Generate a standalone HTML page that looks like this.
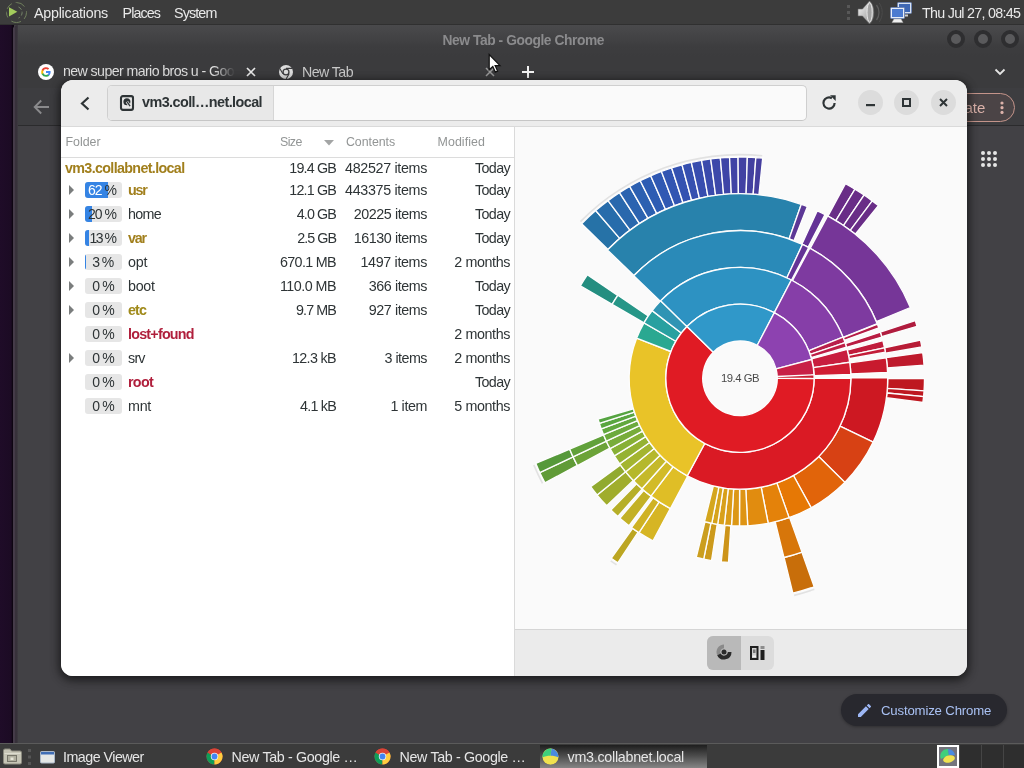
<!DOCTYPE html>
<html><head><meta charset="utf-8"><title>vm3.collabnet.local</title>
<style>
html,body{margin:0;padding:0}
body{width:1024px;height:768px;overflow:hidden;position:relative;background:#424145;
 font-family:"Liberation Sans",sans-serif;font-size:14px;color:#2e3436}
div,span,svg{position:absolute;box-sizing:border-box}
.t{white-space:nowrap;line-height:1}
#top,#bot,#chrome,#bao{will-change:transform}

/* ---------- desktop + panels ---------- */
#desk{left:0;top:25px;width:14px;height:718px;background:linear-gradient(90deg,#1f0c28 0,#1c0b24 11px,#0e0512 12.500px,#0e0512 13px)}
#top{left:0;top:0;width:1024px;height:25px;background:#3c3c3c;border-bottom:1px solid #303030}
#top .t{color:#e9e9e9;font-size:14.3px;top:5.500px}
#bot{left:0;top:743px;width:1024px;height:25px;background:#3b3b3b;border-top:1px solid #5b5b5b}
#bot .t{color:#e6e6e6;font-size:14.3px;top:5.500px}

/* ---------- chrome ---------- */
#chrome{left:13px;top:25px;width:1011px;height:718px;background:#424145;border-top-left-radius:5px;overflow:hidden}
#cedge{left:0;top:0;width:5px;height:718px;background:linear-gradient(90deg,#463c4a 0,#443a48 1.500px,#37313a 2px,#37313a 4px,#403e43 5px)}
#ctitle{left:0;top:0;width:1011px;height:31px;background:linear-gradient(#4a4a4c,#3d3d3f 70%,#3b3b3d)}
#ctabs{left:0;top:31px;width:1011px;height:32px;background:#3b3b3d}
#ctool{left:0;top:63px;width:1011px;height:38px;background:#3d3d40;border-bottom:1px solid #2b2b2d}
#ctitle .t{color:#8b8b8d;font-weight:bold;font-size:13.8px;top:9px}
.tab{color:#dedede;font-size:14.2px;top:40px}
.wb{width:18px;height:18px;border-radius:50%;top:5px;background:#5a5a5c;border:4px solid #2e2e30}

/* ---------- baobab ---------- */
#bao{left:61px;top:80px;width:906px;height:596px;border-radius:12px;overflow:hidden;background:#fafafa;
 box-shadow:0 2px 8px 1px rgba(0,0,0,.35)}
#bshadow{left:61px;top:80px;width:906px;height:596px;border-radius:12px;box-shadow:0 3px 10px 2px rgba(0,0,0,.35)}
#bhead{left:0;top:0;width:906px;height:47px;background:#ececec;border-bottom:1px solid #dadada}
#path{left:46px;top:5px;width:700px;height:36px;background:#fafafa;border:1px solid #cfcfcf;border-bottom-color:#c6c6c6;border-radius:5px;overflow:hidden}
#pbtn{left:0;top:0;width:166px;height:34px;background:#e8e8e8;border-right:1px solid #d6d6d6}
#pbtn .t{font-weight:bold;font-size:14.4px;color:#2e3436;left:34px;top:9px}
.cb{width:25px;height:25px;border-radius:50%;background:#dcdcdc;top:10px}
#left{left:0;top:47px;width:453px;height:549px;background:#fff}
#vsep{left:453px;top:47px;width:1px;height:549px;background:#dadada}
#right{left:454px;top:47px;width:452px;height:502px;background:#fafafa}
#abar{left:454px;top:549px;width:452px;height:47px;background:#ebebeb;border-top:1px solid #d5d5d5}
.hdr{color:#929595;font-size:12.4px;top:9px}
#hline{left:0;top:30px;width:453px;height:1px;background:#dcdcdc}
.row{left:0;width:453px;height:24px}
.row{color:#2e3436}
.row .t{font-size:14.3px;top:5px}
.row .nm{left:67px}
.row .r{text-align:right}
.sz{right:178px}.ct{right:87px}.md{right:4px}
.b{font-weight:bold}
.gold{color:#a17f1c}.red{color:#b01f3c}.olive{color:#a08a1a}
.pc{left:24px;top:4px;width:37px;height:16px;background:#e6e6e6;border-radius:3px;overflow:hidden}
.pc .t{font-size:14px;top:1px;color:#2e3436}
.pc b{font-weight:normal;color:#fff}
.pc i{position:absolute;left:0;top:0;height:16px;background:#3584e4;display:block}
.tri{left:8px;top:7px;width:0;height:0;border-left:5px solid #7a7d7d;border-top:5px solid transparent;border-bottom:5px solid transparent}
.chart{left:0;top:0}
.chart path{stroke:#fdfdfd;stroke-width:1.350;stroke-linejoin:miter}
.chart path.tk{stroke:none}
#clabel{font-size:11.3px;color:#4a4a4a;left:206px;top:246px}

</style></head>
<body>
<div id="desk"></div>

<!-- ================= CHROME WINDOW ================= -->
<div id="chrome">
  <div id="ctitle"><span class="t" style="letter-spacing:-0.433px;left:429.5px">New Tab - Google Chrome</span>
    <div class="wb" style="left:934px"></div><div class="wb" style="left:961px"></div><div class="wb" style="left:988px"></div>
  </div>
  <div id="ctabs"></div>
  <div id="ctool"></div>
  <div id="cedge"></div>
  <!-- tab 1 -->
  <svg style="left:25px;top:39px" width="16" height="16" viewBox="0 0 16 16">
    <circle cx="8" cy="8" r="8" fill="#fff"/>
    <path d="M12.6 8.1c0-.35-.03-.68-.09-1H8v1.9h2.58a2.2 2.2 0 0 1-.96 1.45v1.2h1.55c.9-.83 1.43-2.06 1.43-3.55z" fill="#4285f4"/>
    <path d="M8 12.8c1.3 0 2.38-.43 3.17-1.16l-1.55-1.2c-.43.29-.98.46-1.62.46-1.25 0-2.3-.84-2.68-1.97H3.72v1.24A4.8 4.8 0 0 0 8 12.8z" fill="#34a853"/>
    <path d="M5.32 8.93a2.9 2.9 0 0 1 0-1.84V5.85H3.72a4.8 4.8 0 0 0 0 4.32l1.6-1.24z" fill="#fbbc05"/>
    <path d="M8 5.1c.7 0 1.34.24 1.83.72l1.38-1.38A4.8 4.8 0 0 0 3.72 5.85l1.6 1.24C5.7 5.94 6.75 5.1 8 5.1z" fill="#ea4335"/>
  </svg>
  <div style="left:50px;top:36px;width:172px;height:22px;overflow:hidden;-webkit-mask-image:linear-gradient(90deg,#000 88%,transparent);mask-image:linear-gradient(90deg,#000 88%,transparent)"><span class="t tab" style="letter-spacing:-0.596px;left:0;top:3px">new super mario bros u - Goo</span><span class="t tab" style="left:171px;top:3px">gle Search</span></div>
  <svg style="left:233px;top:42px" width="10" height="10" viewBox="0 0 10 10"><path d="M1 1l8 8M9 1l-8 8" stroke="#e8e8e8" stroke-width="1.7"/></svg>
  <!-- tab 2 -->
  <svg style="left:265px;top:39px" width="16" height="16" viewBox="0 0 16 16">
    <circle cx="8" cy="8" r="7" fill="#dcdcdc"/>
    <circle cx="8" cy="8" r="3.6" fill="#3b3b3d"/><circle cx="8" cy="8" r="2.3" fill="#dcdcdc"/>
    <path d="M8 4.4h6.2M4.9 9.8l-3.1-5.4M11.1 9.8l-3.1 5.4" stroke="#3b3b3d" stroke-width="1.1" fill="none"/>
  </svg>
  <span class="t tab" style="letter-spacing:-0.565px;left:289px;color:#c9c9c9">New Tab</span>
  <svg style="left:472px;top:42px" width="10" height="10" viewBox="0 0 10 10"><path d="M1 1l8 8M9 1l-8 8" stroke="#9a9a9a" stroke-width="1.5"/></svg>
  <svg style="left:509px;top:41px" width="12" height="12" viewBox="0 0 12 12"><path d="M6 0v12M0 6h12" stroke="#f2f2f2" stroke-width="2"/></svg>
  <svg style="left:981px;top:43px" width="12" height="8" viewBox="0 0 12 8"><path d="M1.5 1.5l4.5 4.5 4.5-4.5" stroke="#e4e4e4" stroke-width="1.8" fill="none"/></svg>
  <!-- toolbar -->
  <svg style="left:20px;top:74px" width="17" height="16" viewBox="0 0 17 16"><path d="M16 8H2M8.2 1.5L1.7 8l6.5 6.5" stroke="#8a8a8c" stroke-width="1.9" fill="none"/></svg>
  <div style="left:900px;top:68px;width:102px;height:29px;border:1.300px solid #c4948a;border-radius:15px;background:rgba(210,140,130,.10)"></div>
  <span class="t" style="left:924px;top:74.500px;font-size:15px;color:#dcb2aa">Update</span>
  <svg style="left:985.500px;top:75px" width="6" height="16" viewBox="0 0 6 16"><circle cx="3" cy="3" r="1.600" fill="#dcb2aa"/><circle cx="3" cy="7.700" r="1.600" fill="#dcb2aa"/><circle cx="3" cy="12.400" r="1.600" fill="#dcb2aa"/></svg>
  <!-- apps grid -->
  <svg style="left:967px;top:125px" width="18" height="18" viewBox="0 0 18 18" fill="#e6e6e6">
    <circle cx="3" cy="3" r="2"/><circle cx="9" cy="3" r="2"/><circle cx="15" cy="3" r="2"/>
    <circle cx="3" cy="9" r="2"/><circle cx="9" cy="9" r="2"/><circle cx="15" cy="9" r="2"/>
    <circle cx="3" cy="15" r="2"/><circle cx="9" cy="15" r="2"/><circle cx="15" cy="15" r="2"/>
  </svg>
  <!-- customize chrome -->
  <div style="left:828px;top:669px;width:166px;height:32px;border-radius:16px;background:#28282e;box-shadow:0 1px 3px rgba(0,0,0,.3)"></div>
  <svg style="left:845px;top:679px" width="13" height="13" viewBox="0 0 13 13"><path d="M0 13v-2.8L7.9 2.3l2.8 2.8L2.8 13zM8.8 1.4L10 .2a.8.8 0 0 1 1.1 0l1.7 1.7a.8.8 0 0 1 0 1.1l-1.2 1.2z" fill="#9db7f5"/></svg>
  <span class="t" style="letter-spacing:-0.167px;left:868px;top:679px;font-size:13.2px;color:#a9c1f3">Customize Chrome</span>
</div>

<!-- mouse cursor -->
<svg style="left:487px;top:53px;z-index:50" width="16" height="22" viewBox="0 0 16 22"><path d="M2.2 1.5v15.2l3.6-3.3 2.5 5.7 2.3-1-2.5-5.5h4.9z" fill="#fff" stroke="#111" stroke-width="1.2"/></svg>

<!-- ================= TOP PANEL ================= -->
<div id="top">
  <svg style="left:3px;top:0" width="25" height="25" viewBox="0 0 25 25">
    <circle cx="13.500" cy="12.500" r="10" fill="none" stroke="#6f7f5c" stroke-width="1" stroke-dasharray="7 4 10 5 6 3"/>
    <path d="M15.500 7a6 6 0 0 1 0 11" fill="none" stroke="#76866a" stroke-width="1" stroke-dasharray="4 2"/>
    <path d="M6 7.200l8.300 4.600-8.300 4.600z" fill="#a3cb5c"/>
  </svg>
  <span class="t" style="letter-spacing:-0.258px;left:34px">Applications</span>
  <span class="t" style="letter-spacing:-0.904px;left:122.5px">Places</span>
  <span class="t" style="letter-spacing:-0.862px;left:174px">System</span>
  <svg style="left:846px;top:4px" width="6" height="18" viewBox="0 0 6 18" fill="#585858"><rect x="1" y="1" width="3" height="3"/><rect x="1" y="7" width="3" height="3"/><rect x="1" y="13" width="3" height="3"/></svg>
  <!-- speaker -->
  <svg style="left:856px;top:0" width="27" height="25" viewBox="0 0 27 25">
    <defs><linearGradient id="sp" x1="0" y1="0" x2="1" y2="1"><stop offset="0" stop-color="#fafafa"/><stop offset="1" stop-color="#8a8a8a"/></linearGradient></defs>
    <path d="M2 9h4.500l7-8c3 2.500 4.300 6.800 4.300 11.500s-1.300 9-4.300 11.500l-7-8H2z" fill="url(#sp)" stroke="#6a6a6a" stroke-width=".6"/>
    <ellipse cx="13.600" cy="12.500" rx="2.600" ry="9.600" fill="#a2a2a2" stroke="#ececec" stroke-width=".9"/>
    <path d="M20.500 5c1.700 2.200 2.500 4.700 2.500 7.500s-.8 5.300-2.500 7.500" fill="none" stroke="#5c5c5c" stroke-width="1.300"/>
    <path d="M23.200 3c2 2.700 3 6 3 9.500s-1 6.800-3 9.500" fill="none" stroke="#4a4a4a" stroke-width="1"/>
  </svg>
  <!-- network -->
  <svg style="left:889px;top:1px" width="24" height="23" viewBox="0 0 24 23">
    <rect x="8.500" y="1.500" width="14" height="11" rx="1" fill="#d9e3f2" stroke="#6f86b5"/>
    <rect x="10" y="3" width="11" height="8" fill="#3f68b5"/>
    <rect x="13" y="13.500" width="6" height="2" fill="#cfcfcf"/>
    <rect x="1.500" y="6.500" width="14" height="11" rx="1" fill="#e8eef8" stroke="#6f86b5"/>
    <rect x="3" y="8" width="11" height="8" fill="#4c7bd0"/>
    <path d="M5 18h7l2 3.500H3z" fill="#f0f0f0" stroke="#aaa" stroke-width=".5"/>
  </svg>
  <span class="t" style="letter-spacing:-0.723px;left:922px">Thu Jul 27, 08:45</span>
</div>

<!-- ================= BAOBAB ================= -->
<div id="bshadow"></div>
<div id="bao">
  <div id="bhead">
    <svg style="left:18px;top:16px" width="12" height="15" viewBox="0 0 12 15"><path d="M9.500 1.500L3 7.500l6.500 6" stroke="#2e3436" stroke-width="2.200" fill="none"/></svg>
    <div id="path">
      <div id="pbtn">
        <svg style="left:11px;top:8px" width="16" height="18" viewBox="0 0 16 18">
          <rect x="2" y="2.100" width="12" height="13.800" rx="1.800" fill="none" stroke="#2e3436" stroke-width="2.100"/>
          <circle cx="7.900" cy="7.700" r="3.500" fill="#2e3436"/>
          <path d="M7.900 7.700l3.300 4.800" stroke="#e6e6e6" stroke-width="2.800"/>
          <path d="M8.100 7.900l3 4.300" stroke="#2e3436" stroke-width="1.300"/>
        </svg>
        <span class="t" style="letter-spacing:-0.576px">vm3.coll…net.local</span>
      </div>
    </div>
    <svg style="left:760px;top:15px" width="16" height="16" viewBox="0 0 16 16">
      <path d="M13.600 8A5.600 5.600 0 1 1 10.900 3.200" fill="none" stroke="#2e3436" stroke-width="2.200"/>
      <path d="M9 .3h5.700v5.700z" fill="#2e3436"/>
    </svg>
    <div class="cb" style="left:797px"><svg style="left:8px;top:14px" width="9" height="3"><rect width="9" height="2.200" fill="#2e3436"/></svg></div>
    <div class="cb" style="left:833px"><svg style="left:8px;top:8px" width="9" height="9"><rect x="1" y="1" width="7" height="7" fill="none" stroke="#2e3436" stroke-width="2"/></svg></div>
    <div class="cb" style="left:870px"><svg style="left:8px;top:8px" width="9" height="9" viewBox="0 0 9 9"><path d="M1 1l7 7M8 1l-7 7" stroke="#2e3436" stroke-width="2"/></svg></div>
  </div>

  <div id="left">
    <span class="t hdr" style="letter-spacing:-0.021px;left:4.5px">Folder</span>
    <span class="t hdr" style="letter-spacing:-0.590px;left:219px">Size</span>
    <svg style="left:263px;top:13px" width="10" height="6" viewBox="0 0 10 6"><path d="M0 0h10L5 5.500z" fill="#a3a5a5"/></svg>
    <span class="t hdr" style="letter-spacing:-0.074px;left:285px">Contents</span>
    <span class="t hdr" style="letter-spacing:0.082px;left:376.5px">Modified</span>
    <div id="hline"></div>

<div class="row" style="top:29px"><span class="t b gold" style="letter-spacing:-0.653px;left:4px">vm3.collabnet.local</span><span class="t sz" style="letter-spacing:-0.817px">19.4 GB</span><span class="t ct" style="letter-spacing:-0.320px">482527 items</span><span class="t md" style="letter-spacing:-0.631px">Today</span></div>
<div class="row" style="top:51px"><div class="tri"></div><div class="pc"><i style="width:23px"></i><span class="t" style="letter-spacing:-0.980px;left:3px"><b>62</b> %</span></div><span class="t nm b gold" style="letter-spacing:-1.167px">usr</span><span class="t sz" style="letter-spacing:-0.817px">12.1 GB</span><span class="t ct" style="letter-spacing:-0.320px">443375 items</span><span class="t md" style="letter-spacing:-0.631px">Today</span></div>
<div class="row" style="top:75px"><div class="tri"></div><div class="pc"><i style="width:7px"></i><span class="t" style="letter-spacing:-0.980px;left:3px">20 %</span></div><span class="t nm " style="letter-spacing:-0.691px">home</span><span class="t sz" style="letter-spacing:-0.878px">4.0 GB</span><span class="t ct" style="letter-spacing:-0.422px">20225 items</span><span class="t md" style="letter-spacing:-0.631px">Today</span></div>
<div class="row" style="top:99px"><div class="tri"></div><div class="pc"><i style="width:4px"></i><span class="t" style="letter-spacing:-1.480px;left:4.5px">13 %</span></div><span class="t nm b gold" style="letter-spacing:-1.156px">var</span><span class="t sz" style="letter-spacing:-0.961px">2.5 GB</span><span class="t ct" style="letter-spacing:-0.422px">16130 items</span><span class="t md" style="letter-spacing:-0.631px">Today</span></div>
<div class="row" style="top:123px"><div class="tri"></div><div class="pc"><i style="width:1px"></i><span class="t" style="letter-spacing:-1.042px;left:7.25px">3 %</span></div><span class="t nm " style="letter-spacing:-0.208px">opt</span><span class="t sz" style="letter-spacing:-0.650px">670.1 MB</span><span class="t ct" style="letter-spacing:-0.344px">1497 items</span><span class="t md" style="letter-spacing:-0.383px">2 months</span></div>
<div class="row" style="top:147px"><div class="tri"></div><div class="pc"><span class="t" style="letter-spacing:-0.792px;left:7.25px">0 %</span></div><span class="t nm " style="letter-spacing:-0.270px">boot</span><span class="t sz" style="letter-spacing:-0.518px">110.0 MB</span><span class="t ct" style="letter-spacing:-0.415px">366 items</span><span class="t md" style="letter-spacing:-0.631px">Today</span></div>
<div class="row" style="top:171px"><div class="tri"></div><div class="pc"><span class="t" style="letter-spacing:-0.792px;left:7.25px">0 %</span></div><span class="t nm b olive" style="letter-spacing:-0.891px">etc</span><span class="t sz" style="letter-spacing:-0.883px">9.7 MB</span><span class="t ct" style="letter-spacing:-0.415px">927 items</span><span class="t md" style="letter-spacing:-0.631px">Today</span></div>
<div class="row" style="top:195px"><div class="pc"><span class="t" style="letter-spacing:-0.792px;left:7.25px">0 %</span></div><span class="t nm b red" style="letter-spacing:-0.772px">lost+found</span><span class="t md" style="letter-spacing:-0.383px">2 months</span></div>
<div class="row" style="top:219px"><div class="tri"></div><div class="pc"><span class="t" style="letter-spacing:-0.792px;left:7.25px">0 %</span></div><span class="t nm " style="letter-spacing:-0.771px">srv</span><span class="t sz" style="letter-spacing:-0.641px">12.3 kB</span><span class="t ct" style="letter-spacing:-0.513px">3 items</span><span class="t md" style="letter-spacing:-0.383px">2 months</span></div>
<div class="row" style="top:243px"><div class="pc"><span class="t" style="letter-spacing:-0.792px;left:7.25px">0 %</span></div><span class="t nm b red" style="letter-spacing:-0.699px">root</span><span class="t md" style="letter-spacing:-0.631px">Today</span></div>
<div class="row" style="top:267px"><div class="pc"><span class="t" style="letter-spacing:-0.792px;left:7.25px">0 %</span></div><span class="t nm " style="letter-spacing:-0.281px">mnt</span><span class="t sz" style="letter-spacing:-0.755px">4.1 kB</span><span class="t ct" style="letter-spacing:-0.406px">1 item</span><span class="t md" style="letter-spacing:-0.383px">5 months</span></div>
  </div>
  <div id="vsep"></div>
  <div id="right">
<svg class="chart" width="452" height="502" viewBox="515 127 452 502">
<path class="tk" d="M581.09 222.14L579.88 220.95A224.50 224.50 0 0 1 762.30 154.91L762.13 156.60A222.80 222.80 0 0 0 581.09 222.14Z" fill="#dcdcdc" opacity="0.8"/>
<path class="tk" d="M814.01 588.45L814.57 590.05A224.50 224.50 0 0 1 794.31 596.13L793.90 594.48A222.80 222.80 0 0 0 814.01 588.45Z" fill="#dcdcdc" opacity="0.8"/>
<path class="tk" d="M543.28 482.90L541.78 483.70A224.50 224.50 0 0 1 533.04 465.30L534.61 464.64A222.80 222.80 0 0 0 543.28 482.90Z" fill="#dcdcdc" opacity="0.8"/>
<path class="tk" d="M617.03 564.09L616.09 565.51A224.50 224.50 0 0 1 610.27 561.52L611.25 560.14A222.80 222.80 0 0 0 617.03 564.09Z" fill="#dcdcdc" opacity="0.8"/>
<path d="M801.86 552.12L814.20 586.79A221.30 221.30 0 0 1 792.82 593.20L784.04 557.47A184.50 184.50 0 0 0 801.86 552.12Z" fill="#c86e0a"/>
<path d="M638.14 532.14L617.83 562.82A221.30 221.30 0 0 1 611.21 558.26L632.62 528.33A184.50 184.50 0 0 0 638.14 532.14Z" fill="#bca622"/>
<path d="M577.39 465.46L544.95 482.84A221.30 221.30 0 0 1 539.76 472.52L573.06 456.86A184.50 184.50 0 0 0 577.39 465.46Z" fill="#609b37"/>
<path d="M573.06 456.86L539.76 472.52A221.30 221.30 0 0 1 535.71 463.38L569.68 449.23A184.50 184.50 0 0 0 573.06 456.86Z" fill="#56993a"/>
<path d="M607.98 249.42L581.64 223.71A221.30 221.30 0 0 1 595.69 210.52L619.69 238.42A184.50 184.50 0 0 0 607.98 249.42Z" fill="#2672a7"/>
<path d="M619.69 238.42L595.69 210.52A221.30 221.30 0 0 1 608.06 200.64L630.00 230.18A184.50 184.50 0 0 0 619.69 238.42Z" fill="#276cab"/>
<path d="M630.00 230.18L608.06 200.64A221.30 221.30 0 0 1 619.47 192.70L639.51 223.57A184.50 184.50 0 0 0 630.00 230.18Z" fill="#2968ad"/>
<path d="M639.51 223.57L619.47 192.70A221.30 221.30 0 0 1 629.68 186.46L648.03 218.36A184.50 184.50 0 0 0 639.51 223.57Z" fill="#2b63b0"/>
<path d="M648.03 218.36L629.68 186.46A221.30 221.30 0 0 1 640.22 180.77L656.81 213.62A184.50 184.50 0 0 0 648.03 218.36Z" fill="#2c60b1"/>
<path d="M656.81 213.62L640.22 180.77A221.30 221.30 0 0 1 650.70 175.82L665.55 209.49A184.50 184.50 0 0 0 656.81 213.62Z" fill="#2d5cb3"/>
<path d="M665.55 209.49L650.70 175.82A221.30 221.30 0 0 1 661.41 171.42L674.48 205.82A184.50 184.50 0 0 0 665.55 209.49Z" fill="#3059b3"/>
<path d="M674.48 205.82L661.41 171.42A221.30 221.30 0 0 1 671.61 167.83L682.99 202.83A184.50 184.50 0 0 0 674.48 205.82Z" fill="#3255b2"/>
<path d="M682.99 202.83L671.61 167.83A221.30 221.30 0 0 1 681.98 164.74L691.63 200.25A184.50 184.50 0 0 0 682.99 202.83Z" fill="#3452b1"/>
<path d="M691.63 200.25L681.98 164.74A221.30 221.30 0 0 1 691.35 162.41L699.44 198.31A184.50 184.50 0 0 0 691.63 200.25Z" fill="#3650b0"/>
<path d="M699.44 198.31L691.35 162.41A221.30 221.30 0 0 1 701.57 160.36L707.96 196.60A184.50 184.50 0 0 0 699.44 198.31Z" fill="#384daf"/>
<path d="M707.96 196.60L701.57 160.36A221.30 221.30 0 0 1 710.73 158.94L715.60 195.42A184.50 184.50 0 0 0 707.96 196.60Z" fill="#3a4aac"/>
<path d="M715.60 195.42L710.73 158.94A221.30 221.30 0 0 1 720.33 157.88L723.60 194.53A184.50 184.50 0 0 0 715.60 195.42Z" fill="#3c48aa"/>
<path d="M723.60 194.53L720.33 157.88A221.30 221.30 0 0 1 729.58 157.25L731.31 194.00A184.50 184.50 0 0 0 723.60 194.53Z" fill="#3e45a7"/>
<path d="M731.31 194.00L729.58 157.25A221.30 221.30 0 0 1 738.07 157.01L738.39 193.81A184.50 184.50 0 0 0 731.31 194.00Z" fill="#4043a5"/>
<path d="M738.39 193.81L738.07 157.01A221.30 221.30 0 0 1 747.34 157.12L746.12 193.90A184.50 184.50 0 0 0 738.39 193.81Z" fill="#4241a3"/>
<path d="M746.12 193.90L747.34 157.12A221.30 221.30 0 0 1 755.82 157.57L753.19 194.27A184.50 184.50 0 0 0 746.12 193.90Z" fill="#4340a0"/>
<path d="M753.19 194.27L755.82 157.57A221.30 221.30 0 0 1 762.71 158.17L758.94 194.77A184.50 184.50 0 0 0 753.19 194.27Z" fill="#453e9e"/>
<path d="M827.92 216.10L845.46 183.74A221.30 221.30 0 0 1 854.97 189.21L835.85 220.65A184.50 184.50 0 0 0 827.92 216.10Z" fill="#692d87"/>
<path d="M835.85 220.65L854.97 189.21A221.30 221.30 0 0 1 864.07 195.05L843.44 225.52A184.50 184.50 0 0 0 835.85 220.65Z" fill="#692d87"/>
<path d="M843.44 225.52L864.07 195.05A221.30 221.30 0 0 1 872.25 200.87L850.26 230.37A184.50 184.50 0 0 0 843.44 225.52Z" fill="#692d87"/>
<path d="M850.26 230.37L872.25 200.87A221.30 221.30 0 0 1 878.34 205.57L855.33 234.29A184.50 184.50 0 0 0 850.26 230.37Z" fill="#692d87"/>
<path d="M887.70 378.60L924.50 378.68A184.50 184.50 0 0 1 924.07 390.85L887.36 388.35A147.70 147.70 0 0 0 887.70 378.60Z" fill="#be1820"/>
<path d="M887.36 388.35L924.07 390.85A184.50 184.50 0 0 1 923.59 396.62L886.97 392.97A147.70 147.70 0 0 0 887.36 388.35Z" fill="#be1820"/>
<path d="M886.97 392.97L923.59 396.62A184.50 184.50 0 0 1 922.91 402.49L886.43 397.66A147.70 147.70 0 0 0 886.97 392.97Z" fill="#be1820"/>
<path d="M789.63 517.41L801.99 552.07A184.50 184.50 0 0 1 783.91 557.50L775.15 521.76A147.70 147.70 0 0 0 789.63 517.41Z" fill="#d7760a"/>
<path d="M730.81 525.71L728.52 562.44A184.50 184.50 0 0 1 721.25 561.84L724.99 525.24A147.70 147.70 0 0 0 730.81 525.71Z" fill="#cd9419"/>
<path d="M717.23 524.23L711.56 560.59A184.50 184.50 0 0 1 703.69 559.19L710.93 523.11A147.70 147.70 0 0 0 717.23 524.23Z" fill="#cc9a1c"/>
<path d="M710.93 523.11L703.69 559.19A184.50 184.50 0 0 1 696.20 557.53L704.94 521.78A147.70 147.70 0 0 0 710.93 523.11Z" fill="#cb9e1e"/>
<path d="M670.28 508.51L652.91 540.95A184.50 184.50 0 0 1 638.97 532.68L659.12 501.89A147.70 147.70 0 0 0 670.28 508.51Z" fill="#d6b524"/>
<path d="M659.12 501.89L638.97 532.68A184.50 184.50 0 0 1 631.47 527.50L653.12 497.74A147.70 147.70 0 0 0 659.12 501.89Z" fill="#cfb224"/>
<path d="M651.18 496.31L629.05 525.71A184.50 184.50 0 0 1 619.85 518.32L643.82 490.39A147.70 147.70 0 0 0 651.18 496.31Z" fill="#c3b126"/>
<path d="M642.19 488.98L617.83 516.55A184.50 184.50 0 0 1 610.84 510.05L636.60 483.77A147.70 147.70 0 0 0 642.19 488.98Z" fill="#b6af28"/>
<path d="M633.28 480.40L606.69 505.84A184.50 184.50 0 0 1 597.16 495.08L625.65 471.78A147.70 147.70 0 0 0 633.28 480.40Z" fill="#a0ad2c"/>
<path d="M625.59 471.72L597.09 494.99A184.50 184.50 0 0 1 590.67 486.66L620.46 465.05A147.70 147.70 0 0 0 625.59 471.72Z" fill="#91aa2f"/>
<path d="M609.87 448.17L577.45 465.58A184.50 184.50 0 0 1 573.06 456.86L606.36 441.19A147.70 147.70 0 0 0 609.87 448.17Z" fill="#6ca338"/>
<path d="M606.36 441.19L573.06 456.86A184.50 184.50 0 0 1 569.63 449.10L603.61 434.98A147.70 147.70 0 0 0 606.36 441.19Z" fill="#61a13a"/>
<path d="M612.17 304.30L580.33 285.86A184.50 184.50 0 0 1 587.28 274.77L617.74 295.42A147.70 147.70 0 0 0 612.17 304.30Z" fill="#248e80"/>
<path d="M633.87 275.57L607.43 249.98A184.50 184.50 0 0 1 801.28 204.28L789.06 238.99A147.70 147.70 0 0 0 633.87 275.57Z" fill="#2882ac"/>
<path d="M789.06 238.99L801.28 204.28A184.50 184.50 0 0 1 807.42 206.56L793.97 240.81A147.70 147.70 0 0 0 789.06 238.99Z" fill="#5c3896"/>
<path d="M801.88 244.19L817.29 210.77A184.50 184.50 0 0 1 825.00 214.55L808.05 247.21A147.70 147.70 0 0 0 801.88 244.19Z" fill="#643296"/>
<path d="M810.18 248.34L827.66 215.95A184.50 184.50 0 0 1 910.37 307.50L876.39 321.62A147.70 147.70 0 0 0 810.18 248.34Z" fill="#763698"/>
<path d="M880.28 332.09L915.24 320.57A184.50 184.50 0 0 1 917.02 326.31L881.71 336.68A147.70 147.70 0 0 0 880.28 332.09Z" fill="#b01c3e"/>
<path d="M884.51 347.76L920.51 340.15A184.50 184.50 0 0 1 921.83 347.00L885.56 353.24A147.70 147.70 0 0 0 884.51 347.76Z" fill="#b81c36"/>
<path d="M886.25 357.66L922.69 352.52A184.50 184.50 0 0 1 924.04 365.21L887.33 367.82A147.70 147.70 0 0 0 886.25 357.66Z" fill="#be1a2c"/>
<path d="M850.90 377.72L887.70 377.53A147.70 147.70 0 0 1 873.20 442.12L840.01 426.22A110.90 110.90 0 0 0 850.90 377.72Z" fill="#cd1822"/>
<path d="M840.01 426.22L873.20 442.12A147.70 147.70 0 0 1 844.80 482.37L818.69 456.44A110.90 110.90 0 0 0 840.01 426.22Z" fill="#d74114"/>
<path d="M818.69 456.44L844.80 482.37A147.70 147.70 0 0 1 811.16 507.73L793.43 475.48A110.90 110.90 0 0 0 818.69 456.44Z" fill="#e1640a"/>
<path d="M793.43 475.48L811.16 507.73A147.70 147.70 0 0 1 789.06 517.61L776.84 482.90A110.90 110.90 0 0 0 793.43 475.48Z" fill="#e67805"/>
<path d="M776.84 482.90L789.06 517.61A147.70 147.70 0 0 1 768.18 523.29L761.16 487.16A110.90 110.90 0 0 0 776.84 482.90Z" fill="#e4820a"/>
<path d="M761.16 487.16L768.18 523.29A147.70 147.70 0 0 1 747.73 525.80L745.80 489.05A110.90 110.90 0 0 0 761.16 487.16Z" fill="#e18c0f"/>
<path d="M745.80 489.05L747.73 525.80A147.70 147.70 0 0 1 739.48 526.00L739.61 489.20A110.90 110.90 0 0 0 745.80 489.05Z" fill="#de9414"/>
<path d="M739.61 489.20L739.48 526.00A147.70 147.70 0 0 1 731.50 525.76L733.62 489.02A110.90 110.90 0 0 0 739.61 489.20Z" fill="#dc9816"/>
<path d="M733.62 489.02L731.50 525.76A147.70 147.70 0 0 1 724.30 525.16L728.22 488.57A110.90 110.90 0 0 0 733.62 489.02Z" fill="#da9c18"/>
<path d="M728.22 488.57L724.30 525.16A147.70 147.70 0 0 1 717.66 524.30L723.23 487.92A110.90 110.90 0 0 0 728.22 488.57Z" fill="#d8a01a"/>
<path d="M723.23 487.92L717.66 524.30A147.70 147.70 0 0 1 711.82 523.29L718.84 487.16A110.90 110.90 0 0 0 723.23 487.92Z" fill="#d6a31c"/>
<path d="M718.84 487.16L711.82 523.29A147.70 147.70 0 0 1 704.52 521.68L713.36 485.95A110.90 110.90 0 0 0 718.84 487.16Z" fill="#d4a61e"/>
<path d="M687.76 476.13L670.43 508.59A147.70 147.70 0 0 1 650.91 496.10L673.10 466.75A110.90 110.90 0 0 0 687.76 476.13Z" fill="#dfbe26"/>
<path d="M673.10 466.75L650.91 496.10A147.70 147.70 0 0 1 641.94 488.75L666.37 461.23A110.90 110.90 0 0 0 673.10 466.75Z" fill="#d2bb28"/>
<path d="M666.37 461.23L641.94 488.75A147.70 147.70 0 0 1 633.57 480.72L660.09 455.20A110.90 110.90 0 0 0 666.37 461.23Z" fill="#c5b92a"/>
<path d="M660.09 455.20L633.57 480.72A147.70 147.70 0 0 1 625.70 471.85L654.18 448.54A110.90 110.90 0 0 0 660.09 455.20Z" fill="#b5b82c"/>
<path d="M654.18 448.54L625.70 471.85A147.70 147.70 0 0 1 619.61 463.86L649.60 442.54A110.90 110.90 0 0 0 654.18 448.54Z" fill="#a4b530"/>
<path d="M649.60 442.54L619.61 463.86A147.70 147.70 0 0 1 614.34 455.91L645.65 436.57A110.90 110.90 0 0 0 649.60 442.54Z" fill="#95b232"/>
<path d="M645.65 436.57L614.34 455.91A147.70 147.70 0 0 1 610.08 448.55L642.45 431.05A110.90 110.90 0 0 0 645.65 436.57Z" fill="#87b035"/>
<path d="M642.45 431.05L610.08 448.55A147.70 147.70 0 0 1 606.36 441.19L639.65 425.52A110.90 110.90 0 0 0 642.45 431.05Z" fill="#78ac3a"/>
<path d="M639.65 425.52L606.36 441.19A147.70 147.70 0 0 1 603.44 434.58L637.47 420.56A110.90 110.90 0 0 0 639.65 425.52Z" fill="#6caa3c"/>
<path d="M637.47 420.56L603.44 434.58A147.70 147.70 0 0 1 601.21 428.82L635.79 416.23A110.90 110.90 0 0 0 637.47 420.56Z" fill="#62a83e"/>
<path d="M635.79 416.23L601.21 428.82A147.70 147.70 0 0 1 599.37 423.45L634.41 412.20A110.90 110.90 0 0 0 635.79 416.23Z" fill="#5aa640"/>
<path d="M634.41 412.20L599.37 423.45A147.70 147.70 0 0 1 598.02 419.01L633.40 408.87A110.90 110.90 0 0 0 634.41 412.20Z" fill="#55a441"/>
<path d="M643.96 322.85L612.09 304.45A147.70 147.70 0 0 1 617.84 295.28L648.28 315.97A110.90 110.90 0 0 0 643.96 322.85Z" fill="#269687"/>
<path d="M660.23 301.26L633.76 275.70A147.70 147.70 0 0 1 802.42 244.44L786.87 277.79A110.90 110.90 0 0 0 660.23 301.26Z" fill="#2a8ab8"/>
<path d="M786.87 277.79L802.42 244.44A147.70 147.70 0 0 1 808.66 247.53L791.55 280.11A110.90 110.90 0 0 0 786.87 277.79Z" fill="#643496"/>
<path d="M792.41 280.56L809.80 248.13A147.70 147.70 0 0 1 877.23 323.69L843.04 337.29A110.90 110.90 0 0 0 792.41 280.56Z" fill="#7e3aa0"/>
<path d="M843.18 337.66L877.42 324.17A147.70 147.70 0 0 1 878.79 327.78L844.21 340.37A110.90 110.90 0 0 0 843.18 337.66Z" fill="#b41c46"/>
<path d="M845.35 343.66L880.31 332.17A147.70 147.70 0 0 1 881.83 337.09L846.50 347.36A110.90 110.90 0 0 0 845.35 343.66Z" fill="#b91c42"/>
<path d="M847.25 350.07L882.83 340.70A147.70 147.70 0 0 1 884.53 347.84L848.52 355.43A110.90 110.90 0 0 0 847.25 350.07Z" fill="#c01c3c"/>
<path d="M848.52 355.43L884.53 347.84A147.70 147.70 0 0 1 885.37 352.14L849.15 358.66A110.90 110.90 0 0 0 848.52 355.43Z" fill="#c31c38"/>
<path d="M849.82 362.87L886.26 357.75A147.70 147.70 0 0 1 887.58 372.37L850.81 373.85A110.90 110.90 0 0 0 849.82 362.87Z" fill="#c81a2e"/>
<path d="M814.10 378.30L850.90 378.30A110.90 110.90 0 0 1 687.25 475.85L704.76 443.48A74.10 74.10 0 0 0 814.10 378.30Z" fill="#da1a24"/>
<path d="M704.76 443.48L687.25 475.85A110.90 110.90 0 0 1 636.61 338.20L670.91 351.50A74.10 74.10 0 0 0 704.76 443.48Z" fill="#e9c328"/>
<path d="M670.91 351.50L636.61 338.20A110.90 110.90 0 0 1 643.96 322.85L675.83 341.25A74.10 74.10 0 0 0 670.91 351.50Z" fill="#2aa891"/>
<path d="M675.83 341.25L643.96 322.85A110.90 110.90 0 0 1 652.14 310.63L681.29 333.09A74.10 74.10 0 0 0 675.83 341.25Z" fill="#28a0a0"/>
<path d="M681.29 333.09L652.14 310.63A110.90 110.90 0 0 1 660.63 300.85L686.97 326.55A74.10 74.10 0 0 0 681.29 333.09Z" fill="#3094b4"/>
<path d="M686.97 326.55L660.63 300.85A110.90 110.90 0 0 1 791.38 280.02L774.33 312.63A74.10 74.10 0 0 0 686.97 326.55Z" fill="#2d92c2"/>
<path d="M774.33 312.63L791.38 280.02A110.90 110.90 0 0 1 842.97 337.12L808.80 350.78A74.10 74.10 0 0 0 774.33 312.63Z" fill="#863ea8"/>
<path d="M808.80 350.78L842.97 337.12A110.90 110.90 0 0 1 844.98 342.56L810.15 354.42A74.10 74.10 0 0 0 808.80 350.78Z" fill="#b91e4b"/>
<path d="M810.15 354.42L844.98 342.56A110.90 110.90 0 0 1 846.45 347.21L811.13 357.53A74.10 74.10 0 0 0 810.15 354.42Z" fill="#be1e46"/>
<path d="M811.54 358.97L847.06 349.38A110.90 110.90 0 0 1 849.74 362.29L813.32 367.60A74.10 74.10 0 0 0 811.54 358.97Z" fill="#c81e3e"/>
<path d="M813.32 367.60L849.74 362.29A110.90 110.90 0 0 1 850.83 374.46L814.06 375.74A74.10 74.10 0 0 0 813.32 367.60Z" fill="#d01c32"/>
<path d="M777.30 378.30L814.10 378.30A74.10 74.10 0 1 1 686.97 326.55L713.30 352.25A37.30 37.30 0 1 0 777.30 378.30Z" fill="#e01b24"/>
<path d="M713.30 352.25L686.97 326.55A74.10 74.10 0 0 1 774.33 312.63L757.28 345.24A37.30 37.30 0 0 0 713.30 352.25Z" fill="#3098c9"/>
<path d="M757.28 345.24L774.33 312.63A74.10 74.10 0 0 1 811.67 359.50L776.08 368.83A37.30 37.30 0 0 0 757.28 345.24Z" fill="#8d42b0"/>
<path d="M776.08 368.83L811.67 359.50A74.10 74.10 0 0 1 814.07 376.09L777.28 377.19A37.30 37.30 0 0 0 776.08 368.83Z" fill="#c82046"/>
<path d="M777.26 376.51L814.02 374.75A74.10 74.10 0 0 1 814.10 378.55L777.30 378.43A37.30 37.30 0 0 0 777.26 376.51Z" fill="#c81e32"/>
</svg>
    <span class="t" id="clabel" style="letter-spacing:-0.493px">19.4 GB</span>
  </div>
  <div id="abar">
    <div style="left:192px;top:6px;width:67px;height:34px;border-radius:6px;background:#dcdcdc;overflow:hidden">
      <div style="left:0;top:0;width:34px;height:34px;background:#b9b9b9"></div>
      <svg style="left:8px;top:7px" width="18" height="18" viewBox="0 0 18 18">
        <path d="M9 1.500A7.500 7.500 0 0 0 2.200 12.200L5.600 10.500A3.800 3.800 0 0 1 9 5.200z" fill="#8a8a8a"/>
        <path d="M2.200 12.200A7.500 7.500 0 0 0 16.500 9h-3.700A3.800 3.800 0 0 1 5.600 10.500z" fill="#2b2b2b"/>
        <circle cx="9" cy="9" r="2.500" fill="#2b2b2b"/>
      </svg>
      <svg style="left:43px;top:10px" width="15" height="14" viewBox="0 0 15 14">
        <rect x="1" y="1" width="6.500" height="12" fill="#cfcfcf" stroke="#1f1f1f" stroke-width="2"/>
        <rect x="3" y="3.500" width="2.500" height="3.500" fill="#777"/><rect x="2.500" y="9.500" width="3.500" height="1.500" fill="#f2f2f2"/>
        <rect x="10.500" y="0" width="4" height="3" fill="#8c8c8c"/><rect x="10.500" y="4" width="4" height="10" fill="#1f1f1f"/>
      </svg>
    </div>
  </div>
</div>

<!-- ================= BOTTOM PANEL ================= -->
<div id="bot">
  <svg style="left:2px;top:2px" width="21" height="20" viewBox="0 0 21 20">
    <path d="M1.500 4.500a1.500 1.500 0 0 1 1.500-1.500h5l1.500 2H18a1.500 1.500 0 0 1 1.500 1.500v10a1.500 1.500 0 0 1-1.500 1.500H3a1.500 1.500 0 0 1-1.500-1.500z" fill="#c6c5b6" stroke="#8b8a7f"/>
    <path d="M2.500 7.500h16" stroke="#dddccf" stroke-width="1"/>
    <rect x="5.500" y="9.500" width="9" height="6" fill="#b0af9f" stroke="#6f6e63" stroke-width=".9"/><rect x="8.500" y="11.500" width="3" height="2.500" fill="#e6e5d8"/>
  </svg>
  <svg style="left:27px;top:5px" width="5" height="17" viewBox="0 0 5 17" fill="#565656"><rect x="1" y="0" width="3" height="3"/><rect x="1" y="6.500" width="3" height="3"/><rect x="1" y="13" width="3" height="3"/></svg>
  <svg style="left:40px;top:7px" width="15" height="13" viewBox="0 0 15 13"><rect x=".5" y=".5" width="14" height="11.500" rx="1" fill="#e4e7e6" stroke="#a9b6c6"/><rect x="1" y="1" width="13" height="2.500" fill="#3f6db5"/></svg>
  <span class="t" style="letter-spacing:-0.534px;left:63px">Image Viewer</span>
  <svg class="chr" style="left:206px;top:4px" width="17" height="17" viewBox="0 0 17 17">
    <circle cx="8.500" cy="8.500" r="8" fill="#db4437"/>
    <path d="M8.500 8.500L1.570 4.500A8 8 0 0 0 8.500 16.500z" fill="#0f9d58"/>
    <path d="M8.500 8.500v8A8 8 0 0 0 15.430 4.500H8.500z" fill="#ffcd40"/>
    <path d="M8.500 8.500L15.430 4.500A8 8 0 0 0 1.570 4.500z" fill="#db4437"/>
    <circle cx="8.500" cy="8.500" r="3.700" fill="#f1f1f1"/><circle cx="8.500" cy="8.500" r="2.900" fill="#4285f4"/>
  </svg>
  <span class="t" style="letter-spacing:-0.359px;left:231.5px">New Tab - Google …</span>
  <svg class="chr" style="left:374px;top:4px" width="17" height="17" viewBox="0 0 17 17">
    <circle cx="8.500" cy="8.500" r="8" fill="#db4437"/>
    <path d="M8.500 8.500L1.570 4.500A8 8 0 0 0 8.500 16.500z" fill="#0f9d58"/>
    <path d="M8.500 8.500v8A8 8 0 0 0 15.430 4.500H8.500z" fill="#ffcd40"/>
    <path d="M8.500 8.500L15.430 4.500A8 8 0 0 0 1.570 4.500z" fill="#db4437"/>
    <circle cx="8.500" cy="8.500" r="3.700" fill="#f1f1f1"/><circle cx="8.500" cy="8.500" r="2.900" fill="#4285f4"/>
  </svg>
  <span class="t" style="letter-spacing:-0.359px;left:399.5px">New Tab - Google …</span>
  <div style="left:540px;top:1px;width:167px;height:23px;background:linear-gradient(#1e1e1e,#4a4a4a 45%,#858585)"></div>
  <svg style="left:542px;top:4px" width="17" height="17" viewBox="0 0 17 17">
    <circle cx="8.500" cy="8.500" r="8" fill="#f4e04a"/>
    <path d="M8.500 8.500L.6 9.500A8 8 0 0 1 9.500 .6z" fill="#3fcf7c"/>
    <path d="M8.500 8.500L9.500.6A8 8 0 0 1 16.400 9.500z" fill="#4a8be0"/>
    <path d="M.6 9.500A8 8 0 0 0 16.400 9.500C13 7 4 7 .6 9.500z" fill="#f0e24f"/>
  </svg>
  <span class="t" style="letter-spacing:-0.268px;left:567.5px">vm3.collabnet.local</span>
  <!-- workspace switcher -->
  <div style="left:937px;top:1px;width:87px;height:24px;background:#2e2e2e"></div>
  <div style="left:959px;top:1px;width:1px;height:24px;background:#454545"></div>
  <div style="left:981px;top:1px;width:1px;height:24px;background:#454545"></div>
  <div style="left:1003px;top:1px;width:1px;height:24px;background:#454545"></div>
  <div style="left:937px;top:1px;width:22px;height:23px;background:#74747c;border:2px solid #fff"></div>
  <svg style="left:940px;top:4px" width="16" height="16" viewBox="0 0 16 16">
    <path d="M1 11A7 7 0 0 1 8 1l1 6z" fill="#3fcf7c"/><path d="M8 1a7 7 0 0 1 7 6l-6 .5z" fill="#4a8be0"/>
    <ellipse cx="9" cy="11" rx="6" ry="3.600" fill="#f0e24f" transform="rotate(-15 9 11)"/>
  </svg>
</div>

</body></html>
